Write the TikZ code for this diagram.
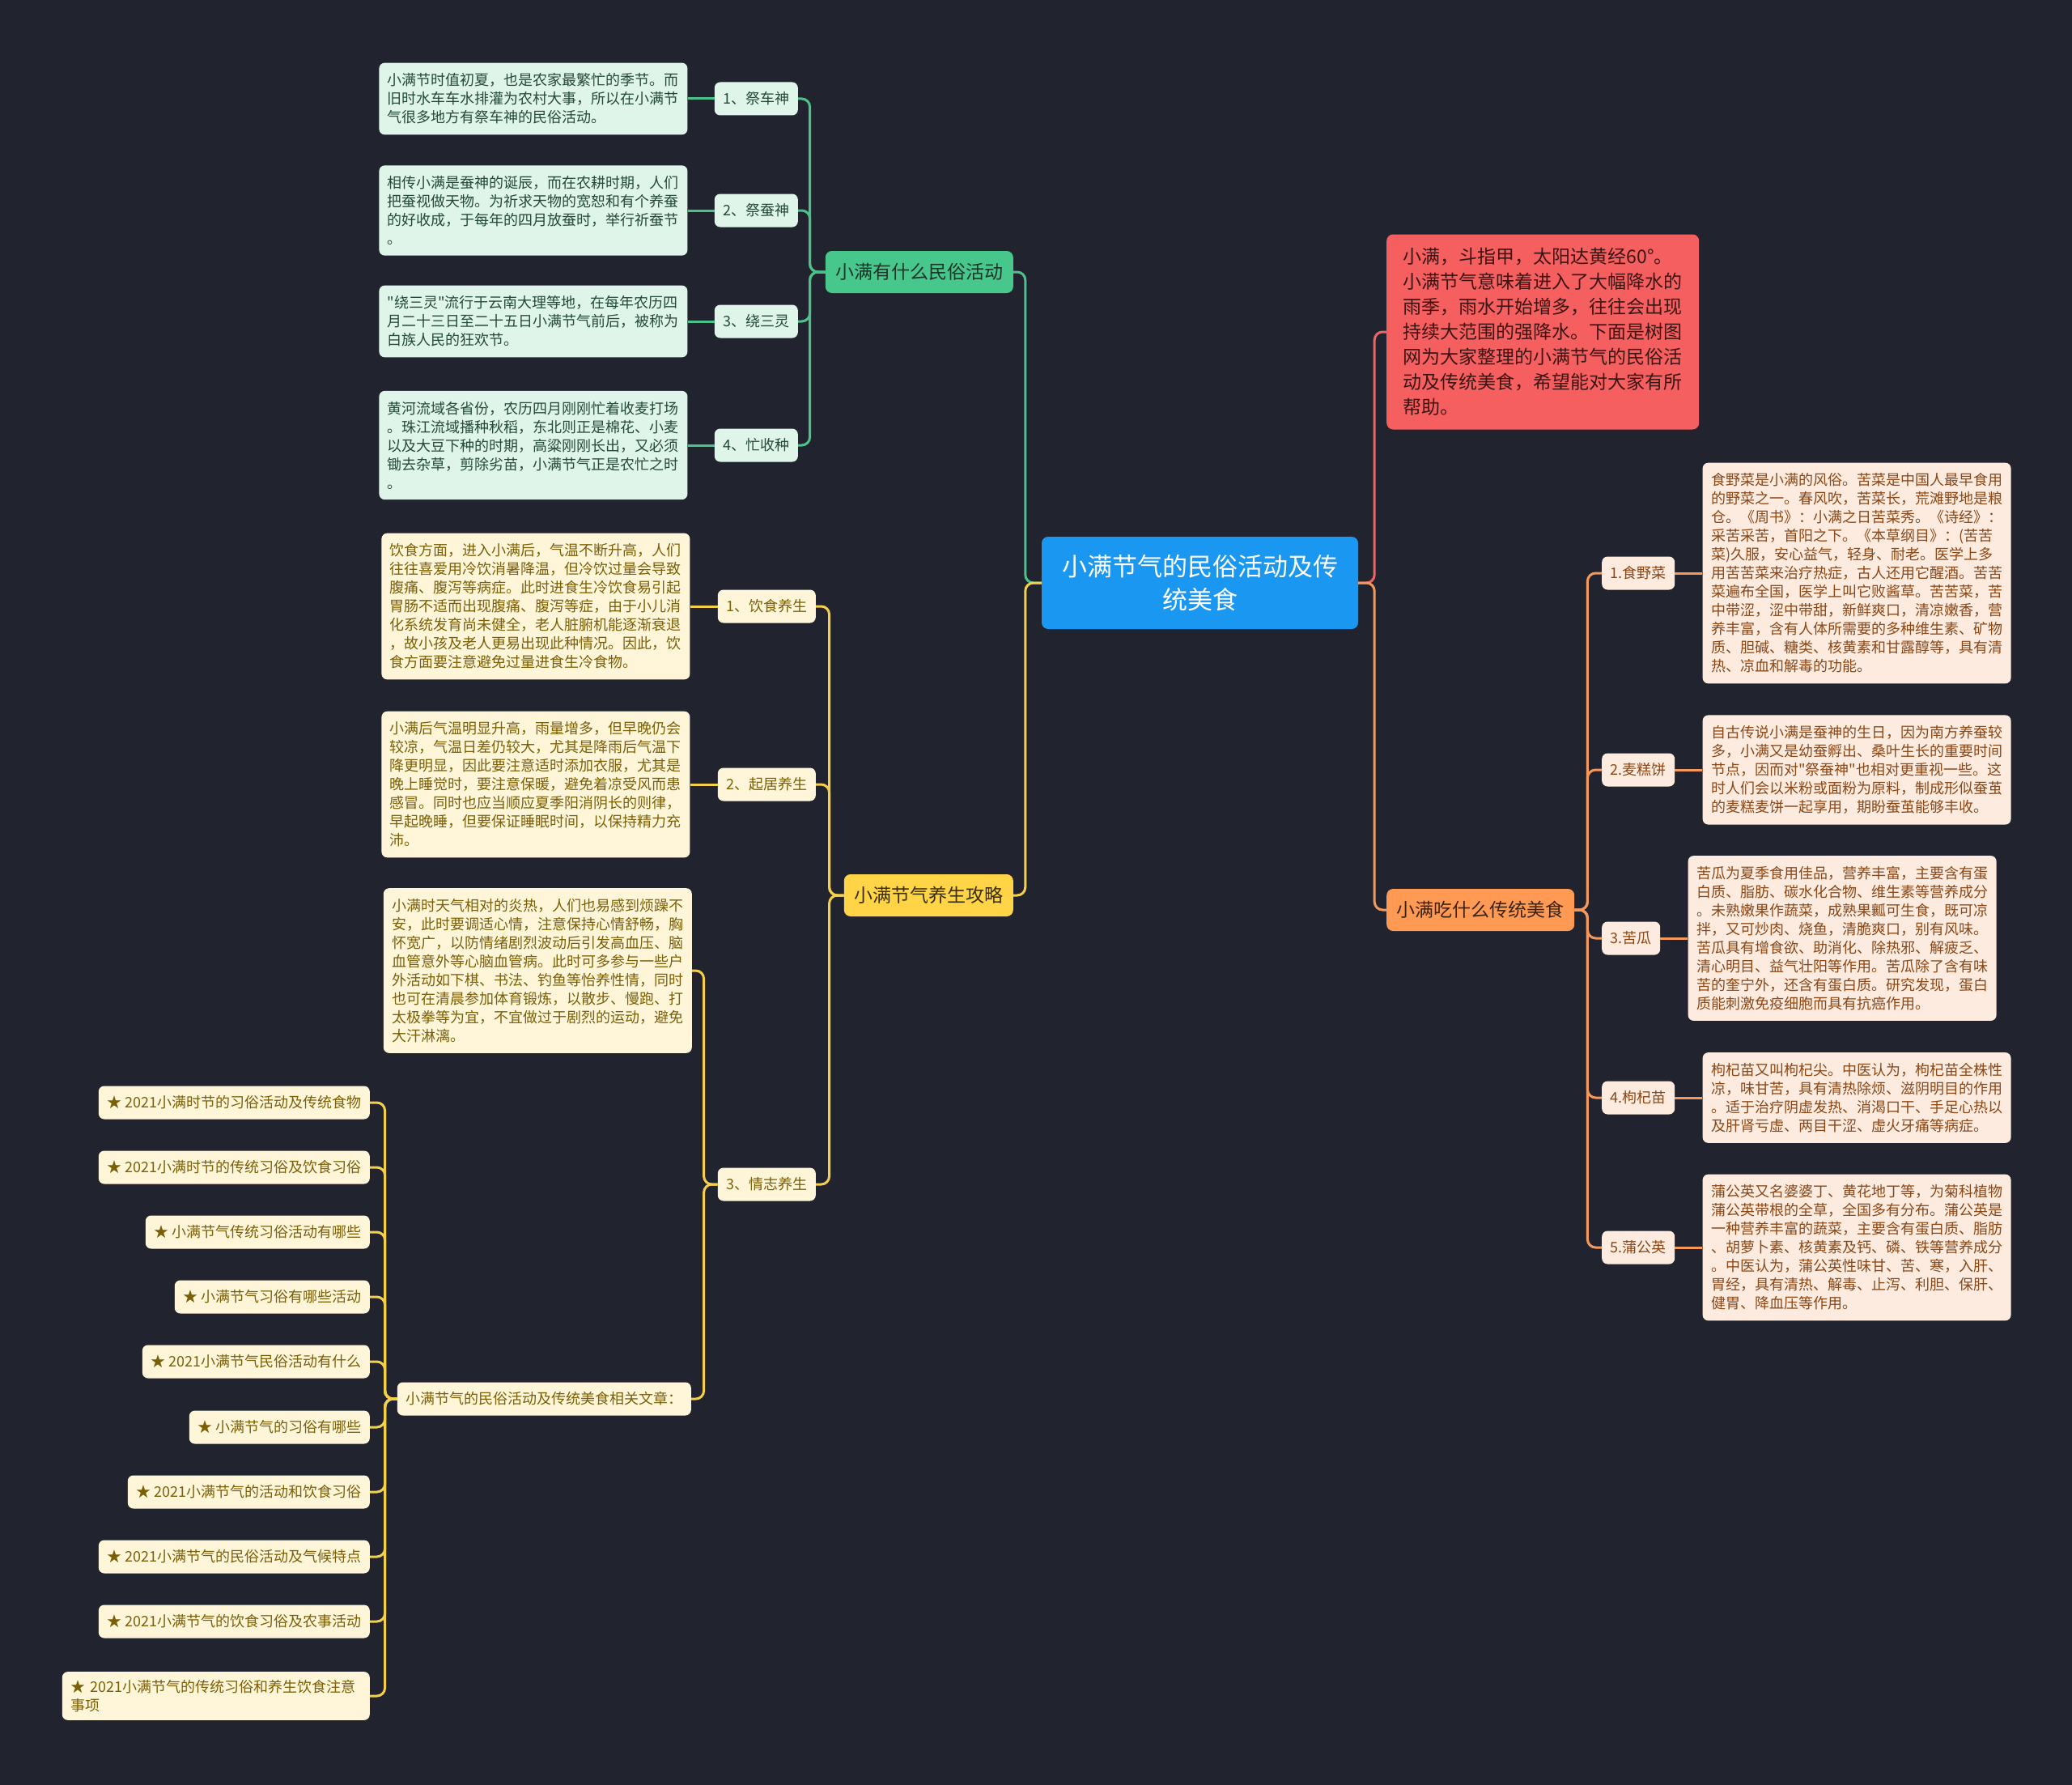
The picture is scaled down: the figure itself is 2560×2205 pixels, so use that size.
\documentclass[tikz,border=0pt]{standalone}
\usepackage{fontspec}
\setmainfont{Noto Sans CJK SC}[Ligatures=TeXOff]
\setlength{\parindent}{0pt}
\usetikzlibrary{calc}

\definecolor{bg}{HTML}{21242F}
\definecolor{rootc}{HTML}{1A97F0}
\definecolor{gmainc}{HTML}{48C78D}
\definecolor{gline}{HTML}{4CC28A}
\definecolor{gfill}{HTML}{DFF5E9}
\definecolor{gtxt}{HTML}{24493A}
\definecolor{gdark}{HTML}{1C3327}
\definecolor{ymainc}{HTML}{FFD447}
\definecolor{yline}{HTML}{F4CF4A}
\definecolor{yfill}{HTML}{FFF6DA}
\definecolor{ytxt}{HTML}{7A5F06}
\definecolor{ydark}{HTML}{3A2E05}
\definecolor{redc}{HTML}{F55F5F}
\definecolor{rline}{HTML}{F06363}
\definecolor{rdark}{HTML}{3B1414}
\definecolor{omainc}{HTML}{FF9A55}
\definecolor{oline}{HTML}{F5995B}
\definecolor{ofill}{HTML}{FDEBDF}
\definecolor{otxt}{HTML}{8A4716}
\definecolor{odark}{HTML}{3D2210}

\tikzset{
  box/.style={rounded corners=7pt, inner xsep=10.5pt, inner ysep=13pt, text width=360pt, align=left, font=\fontsize{18}{23}\selectfont},
  lbl/.style={rounded corners=7pt, inner xsep=10.5pt, inner ysep=0pt, minimum height=41pt, font=\fontsize{18}{22}\selectfont},
  mainn/.style={rounded corners=8pt, inner xsep=12.5pt, inner ysep=0pt, minimum height=52pt, font=\fontsize{23}{28}\selectfont},
  gbox/.style={box, fill=gfill, text=gtxt},
  glbl/.style={lbl, fill=gfill, text=gtxt},
  ybox/.style={box, fill=yfill, text=ytxt},
  ylbl/.style={lbl, fill=yfill, text=ytxt},
  obox/.style={box, fill=ofill, text=otxt},
  olbl/.style={lbl, fill=ofill, text=otxt},
  rootn/.style={rounded corners=8pt, fill=rootc, text=white, align=center, minimum width=391pt, minimum height=114pt, font=\fontsize{31}{41}\selectfont},
  redn/.style={rounded corners=8pt, fill=redc, text=rdark, text width=345pt, inner xsep=20.5pt, inner ysep=14pt, minimum height=241pt, align=left, font=\fontsize{23}{31}\selectfont},
  conn/.style={line width=3pt, rounded corners=10pt},
  gconn/.style={conn, draw=gline},
  yconn/.style={conn, draw=yline},
  rconn/.style={conn, draw=rline},
  oconn/.style={conn, draw=oline},
}

\begin{document}
\begin{tikzpicture}[x=1pt, y=-1pt]
\useasboundingbox (0,0) rectangle (2560,2205);
\fill[bg] (0,0) rectangle (2560,2205);

% root
\node[rootn] (root) at (1482.5,720) {小满节气的民俗活动及传\\统美食};

% ---------------- green branch
\node[mainn, fill=gmainc, text=gdark, anchor=east] (gm) at (1252,336) {小满有什么民俗活动};
\node[glbl, anchor=east] (g1l) at (986,122) {1、祭车神};
\node[glbl, anchor=east] (g2l) at (986,260) {2、祭蚕神};
\node[glbl, anchor=east] (g3l) at (986,397) {3、绕三灵};
\node[glbl, anchor=east] (g4l) at (986,550) {4、忙收种};
\node[gbox, anchor=east] (g1b) at ([xshift=-33pt]g1l.west) {小满节时值初夏，也是农家最繁忙的季节。而\\旧时水车车水排灌为农村大事，所以在小满节\\气很多地方有祭车神的民俗活动。};
\node[gbox, anchor=east] (g2b) at ([xshift=-33pt]g2l.west) {相传小满是蚕神的诞辰，而在农耕时期，人们\\把蚕视做天物。为祈求天物的宽恕和有个养蚕\\的好收成，于每年的四月放蚕时，举行祈蚕节\\。};
\node[gbox, anchor=east] (g3b) at ([xshift=-33pt]g3l.west) {"绕三灵"流行于云南大理等地，在每年农历四\\月二十三日至二十五日小满节气前后，被称为\\白族人民的狂欢节。};
\node[gbox, anchor=east] (g4b) at ([xshift=-33pt]g4l.west) {黄河流域各省份，农历四月刚刚忙着收麦打场\\。珠江流域播种秋稻，东北则正是棉花、小麦\\以及大豆下种的时期，高粱刚刚长出，又必须\\锄去杂草，剪除劣苗，小满节气正是农忙之时\\。};

% ---------------- yellow branch
\node[mainn, fill=ymainc, text=ydark, anchor=east] (ym) at (1252,1106) {小满节气养生攻略};
\node[ylbl, anchor=east] (y1l) at (1008,749) {1、饮食养生};
\node[ylbl, anchor=east] (y2l) at (1008,969) {2、起居养生};
\node[ylbl, anchor=east] (y3l) at (1008,1463) {3、情志养生};
\node[ybox, anchor=east] (y1b) at ([xshift=-34pt]y1l.west) {饮食方面，进入小满后，气温不断升高，人们\\往往喜爱用冷饮消暑降温，但冷饮过量会导致\\腹痛、腹泻等病症。此时进食生冷饮食易引起\\胃肠不适而出现腹痛、腹泻等症，由于小儿消\\化系统发育尚未健全，老人脏腑机能逐渐衰退\\，故小孩及老人更易出现此种情况。因此，饮\\食方面要注意避免过量进食生冷食物。};
\node[ybox, anchor=east] (y2b) at ([xshift=-34pt]y2l.west) {小满后气温明显升高，雨量增多，但早晚仍会\\较凉，气温日差仍较大，尤其是降雨后气温下\\降更明显，因此要注意适时添加衣服，尤其是\\晚上睡觉时，要注意保暖，避免着凉受风而患\\感冒。同时也应当顺应夏季阳消阴长的则律，\\早起晚睡，但要保证睡眠时间，以保持精力充\\沛。};
\node[ybox, anchor=east] (y3b) at (855,1199) {小满时天气相对的炎热，人们也易感到烦躁不\\安，此时要调适心情，注意保持心情舒畅，胸\\怀宽广，以防情绪剧烈波动后引发高血压、脑\\血管意外等心脑血管病。此时可多参与一些户\\外活动如下棋、书法、钓鱼等怡养性情，同时\\也可在清晨参加体育锻炼，以散步、慢跑、打\\太极拳等为宜，不宜做过于剧烈的运动，避免\\大汗淋漓。};
\node[ylbl, anchor=east] (rel) at (854,1728) {小满节气的民俗活动及传统美食相关文章：};

\node[ylbl, anchor=east] (a1) at (457,1362) {★ 2021小满时节的习俗活动及传统食物};
\node[ylbl, anchor=east] (a2) at (457,1442) {★ 2021小满时节的传统习俗及饮食习俗};
\node[ylbl, anchor=east] (a3) at (457,1522) {★ 小满节气传统习俗活动有哪些};
\node[ylbl, anchor=east] (a4) at (457,1602) {★ 小满节气习俗有哪些活动};
\node[ylbl, anchor=east] (a5) at (457,1682) {★ 2021小满节气民俗活动有什么};
\node[ylbl, anchor=east] (a6) at (457,1763) {★ 小满节气的习俗有哪些};
\node[ylbl, anchor=east] (a7) at (457,1843) {★ 2021小满节气的活动和饮食习俗};
\node[ylbl, anchor=east] (a8) at (457,1923) {★ 2021小满节气的民俗活动及气候特点};
\node[ylbl, anchor=east] (a9) at (457,2003) {★ 2021小满节气的饮食习俗及农事活动};
\node[ybox, anchor=east, text width=359pt, inner ysep=10pt] (a10) at (457,2095) {★ 2021小满节气的传统习俗和养生饮食注意\\事项};

% ---------------- red / orange branch
\node[redn, anchor=west] (red) at (1713,410) {小满，斗指甲，太阳达黄经60°。\\小满节气意味着进入了大幅降水的\\雨季，雨水开始增多，往往会出现\\持续大范围的强降水。下面是树图\\网为大家整理的小满节气的民俗活\\动及传统美食，希望能对大家有所\\帮助。};
\node[mainn, fill=omainc, text=odark, anchor=west] (om) at (1713,1124) {小满吃什么传统美食};
\node[olbl, anchor=west] (f1l) at (1979,708) {1.食野菜};
\node[olbl, anchor=west] (f2l) at (1979,951) {2.麦糕饼};
\node[olbl, anchor=west] (f3l) at (1979,1159) {3.苦瓜};
\node[olbl, anchor=west] (f4l) at (1979,1356) {4.枸杞苗};
\node[olbl, anchor=west] (f5l) at (1979,1541) {5.蒲公英};
\node[obox, anchor=west] (f1b) at ([xshift=34pt]f1l.east) {食野菜是小满的风俗。苦菜是中国人最早食用\\的野菜之一。春风吹，苦菜长，荒滩野地是粮\\仓。《周书》：小满之日苦菜秀。《诗经》：\\采苦采苦，首阳之下。《本草纲目》：(苦苦\\菜)久服，安心益气，轻身、耐老。医学上多\\用苦苦菜来治疗热症，古人还用它醒酒。苦苦\\菜遍布全国，医学上叫它败酱草。苦苦菜，苦\\中带涩，涩中带甜，新鲜爽口，清凉嫩香，营\\养丰富，含有人体所需要的多种维生素、矿物\\质、胆碱、糖类、核黄素和甘露醇等，具有清\\热、凉血和解毒的功能。};
\node[obox, anchor=west] (f2b) at ([xshift=34pt]f2l.east) {自古传说小满是蚕神的生日，因为南方养蚕较\\多，小满又是幼蚕孵出、桑叶生长的重要时间\\节点，因而对"祭蚕神"也相对更重视一些。这\\时人们会以米粉或面粉为原料，制成形似蚕茧\\的麦糕麦饼一起享用，期盼蚕茧能够丰收。};
\node[obox, anchor=west] (f3b) at ([xshift=34pt]f3l.east) {苦瓜为夏季食用佳品，营养丰富，主要含有蛋\\白质、脂肪、碳水化合物、维生素等营养成分\\。未熟嫩果作蔬菜，成熟果瓤可生食，既可凉\\拌，又可炒肉、烧鱼，清脆爽口，别有风味。\\苦瓜具有增食欲、助消化、除热邪、解疲乏、\\清心明目、益气壮阳等作用。苦瓜除了含有味\\苦的奎宁外，还含有蛋白质。研究发现，蛋白\\质能刺激免疫细胞而具有抗癌作用。};
\node[obox, anchor=west] (f4b) at ([xshift=34pt]f4l.east) {枸杞苗又叫枸杞尖。中医认为，枸杞苗全株性\\凉，味甘苦，具有清热除烦、滋阴明目的作用\\。适于治疗阴虚发热、消渴口干、手足心热以\\及肝肾亏虚、两目干涩、虚火牙痛等病症。};
\node[obox, anchor=west] (f5b) at ([xshift=34pt]f5l.east) {蒲公英又名婆婆丁、黄花地丁等，为菊科植物\\蒲公英带根的全草，全国多有分布。蒲公英是\\一种营养丰富的蔬菜，主要含有蛋白质、脂肪\\、胡萝卜素、核黄素及钙、磷、铁等营养成分\\。中医认为，蒲公英性味甘、苦、寒，入肝、\\胃经，具有清热、解毒、止泻、利胆、保肝、\\健胃、降血压等作用。};

% ---------------- connectors
\draw[gconn] (root.west) -- ++(-20,0) |- (gm.east);
\draw[yconn] (root.west) -- ++(-20,0) |- (ym.east);
\draw[rconn] (root.east) -- ++(20,0) |- (red.west);
\draw[oconn] (root.east) -- ++(20,0) |- (om.west);

\foreach \n in {g1l,g2l,g3l,g4l}{
  \draw[gconn] (gm.west) -- ++(-19,0) |- (\n.east);
}
\draw[gconn] (g1l.west) -- (g1b.east);
\draw[gconn] (g2l.west) -- (g2b.east);
\draw[gconn] (g3l.west) -- (g3b.east);
\draw[gconn] (g4l.west) -- (g4b.east);

\foreach \n in {y1l,y2l,y3l}{
  \draw[yconn] (ym.west) -- ++(-18,0) |- (\n.east);
}
\draw[yconn] (y1l.west) -- (y1b.east);
\draw[yconn] (y2l.west) -- (y2b.east);
\draw[yconn] (y3l.west) -- ++(-17,0) |- (y3b.east);
\draw[yconn] (y3l.west) -- ++(-17,0) |- (rel.east);

\foreach \n in {a1,a2,a3,a4,a5,a6,a7,a8,a9,a10}{
  \draw[yconn] (rel.west) -- ++(-15,0) |- (\n.east);
}

\foreach \n in {f1l,f2l,f3l,f4l,f5l}{
  \draw[oconn] (om.east) -- ++(16,0) |- (\n.west);
}
\draw[oconn] (f1l.east) -- (f1b.west);
\draw[oconn] (f2l.east) -- (f2b.west);
\draw[oconn] (f3l.east) -- (f3b.west);
\draw[oconn] (f4l.east) -- (f4b.west);
\draw[oconn] (f5l.east) -- (f5b.west);
\end{tikzpicture}
\end{document}
